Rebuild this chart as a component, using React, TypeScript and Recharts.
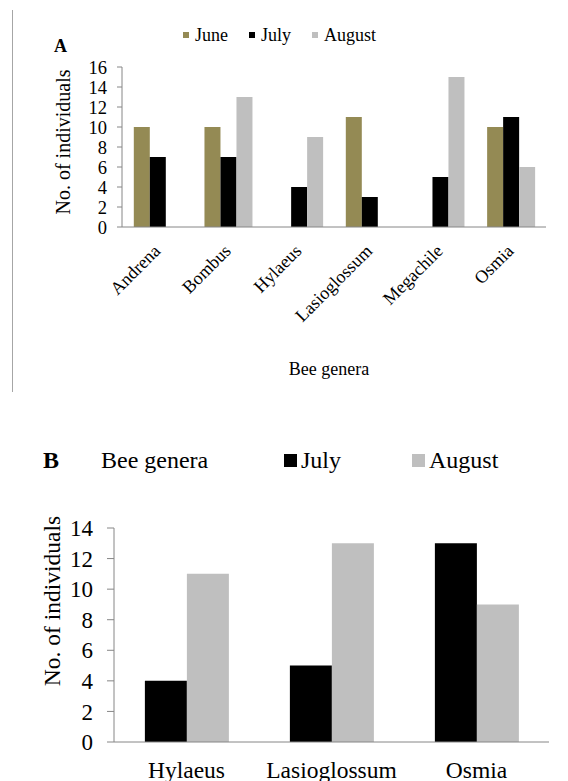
import { BarChart, Bar, XAxis, YAxis } from 'recharts';

const FONT = '"Liberation Serif", "DejaVu Serif", "Times New Roman", Times, serif';
const AXIS = '#868686';

// Panel A – all genera, three months
const generaA = ['Andrena', 'Bombus', 'Hylaeus', 'Lasioglossum', 'Megachile', 'Osmia'];
const juneA = [10, 10, null, 11, null, 10];
const julyA = [7, 7, 4, 3, 5, 11];
const augustA = [null, 13, 9, null, 15, 6];
const ticksA = [0, 2, 4, 6, 8, 10, 12, 14, 16];

// Panel B – genera present in July and August
const generaB = ['Hylaeus', 'Lasioglossum', 'Osmia'];
const julyB = [4, 5, 13];
const augustB = [11, 13, 9];
const ticksB = [0, 2, 4, 6, 8, 10, 12, 14];

const seriesA = [
  { key: 'june', name: 'June', color: '#948A54' },
  { key: 'july', name: 'July', color: '#000000' },
  { key: 'august', name: 'August', color: '#BFBFBF' },
];
const seriesB = seriesA.slice(1);

const dataA = generaA.map((g, i) => ({ genus: g, june: juneA[i], july: julyA[i], august: augustA[i] }));
const dataB = generaB.map((g, i) => ({ genus: g, july: julyB[i], august: augustB[i] }));

// boundary ticks between categories (Excel style)
const edgesA = generaA.map((_, i) => i).concat(generaA.length);
const edgesB = generaB.map((_, i) => i).concat(generaB.length);

function SlantTick({ x, y, payload }: any) {
  return (
    <g transform={`translate(${x + 4},${y + 25}) rotate(-45)`}>
      <text x={0} y={0} textAnchor="end" fontSize={18} fill="#000" style={{ fontFamily: FONT }}>
        {payload.value}
      </text>
    </g>
  );
}

function yTitle(dx: number, dy: number, size: number) {
  return ({ viewBox }: any) => {
    const cx = viewBox.x + dx;
    const cy = viewBox.y + viewBox.height / 2 + dy;
    return (
      <text
        x={cx}
        y={cy}
        transform={`rotate(-90 ${cx} ${cy})`}
        textAnchor="middle"
        dominantBaseline="central"
        fontSize={size}
        fill="#000"
        style={{ fontFamily: FONT }}
      >
        No. of individuals
      </text>
    );
  };
}

function Swatch({ color, size }: { color: string; size: number }) {
  return <span style={{ display: 'inline-block', width: size, height: size, background: color }} />;
}

export default function App() {
  return (
    <div
      style={{
        position: 'absolute',
        left: 0,
        top: 0,
        width: 568,
        height: 781,
        background: '#fff',
        fontFamily: FONT,
        color: '#000',
        overflow: 'hidden',
      }}
    >
      <div style={{ position: 'absolute', left: 12, top: 10, width: 1, height: 382, background: '#a6a6a6' }} />

      {/* Panel A */}
      <div style={{ position: 'absolute', left: 54, top: 37, fontSize: 18, lineHeight: '18px', fontWeight: 'bold' }}>A</div>
      <div
        style={{
          position: 'absolute',
          left: 183,
          top: 26,
          display: 'flex',
          alignItems: 'center',
          fontSize: 18,
          lineHeight: '18px',
          whiteSpace: 'nowrap',
        }}
      >
        {seriesA.map((s) => (
          <span key={s.key} style={{ display: 'flex', alignItems: 'center', marginRight: 21 }}>
            <Swatch color={s.color} size={6} />
            <span style={{ marginLeft: 6 }}>{s.name}</span>
          </span>
        ))}
      </div>
      <div style={{ position: 'absolute', left: 0, top: 0 }}>
        <BarChart
          width={568}
          height={392}
          data={dataA}
          margin={{ top: 67, right: 22, left: 50, bottom: 5 }}
          barCategoryGap="16.7%"
          barGap={0}
          style={{ fontFamily: FONT }}
        >
          <XAxis
            xAxisId="edges"
            type="number"
            domain={[0, generaA.length]}
            ticks={edgesA}
            allowDataOverflow
            height={0}
            tick={false}
            axisLine={false}
            tickSize={5}
            tickLine={{ stroke: AXIS }}
          />
          <XAxis
            xAxisId="cat"
            dataKey="genus"
            interval={0}
            height={160}
            tickLine={false}
            tickSize={0}
            tickMargin={0}
            axisLine={{ stroke: AXIS }}
            tick={<SlantTick />}
            label={({ viewBox }: any) => (
              <text
                x={viewBox.x + viewBox.width / 2 - 5}
                y={viewBox.y + viewBox.height - 12}
                textAnchor="middle"
                fontSize={18}
                fill="#000"
                style={{ fontFamily: FONT }}
              >
                Bee genera
              </text>
            )}
          />
          <YAxis
            width={72}
            domain={[0, 16]}
            ticks={ticksA}
            interval={0}
            tickSize={5}
            tickMargin={10}
            axisLine={{ stroke: AXIS }}
            tickLine={{ stroke: AXIS }}
            tick={{ fill: '#000', fontSize: 18.5, style: { fontFamily: FONT } }}
            label={yTitle(13, -5, 20)}
          />
          {seriesA.map((s) => (
            <Bar key={s.key} xAxisId="cat" dataKey={s.key} name={s.name} fill={s.color} isAnimationActive={false} />
          ))}
        </BarChart>
      </div>

      {/* Panel B */}
      <div style={{ position: 'absolute', left: 43, top: 448, fontSize: 24, lineHeight: '24px', fontWeight: 'bold' }}>B</div>
      <div style={{ position: 'absolute', left: 101, top: 448, fontSize: 24, lineHeight: '24px', whiteSpace: 'nowrap' }}>
        Bee genera
      </div>
      <div
        style={{
          position: 'absolute',
          left: 284,
          top: 448,
          display: 'flex',
          alignItems: 'center',
          fontSize: 24,
          lineHeight: '24px',
          whiteSpace: 'nowrap',
        }}
      >
        {seriesB.map((s) => (
          <span key={s.key} style={{ display: 'flex', alignItems: 'center', marginRight: 71 }}>
            <Swatch color={s.color} size={13} />
            <span style={{ marginLeft: 4 }}>{s.name}</span>
          </span>
        ))}
      </div>
      <div style={{ position: 'absolute', left: 0, top: 400 }}>
        <BarChart
          width={568}
          height={381}
          data={dataB}
          margin={{ top: 128, right: 19, left: 30, bottom: 4 }}
          barCategoryGap="21.3%"
          barGap={0}
          style={{ fontFamily: FONT }}
        >
          <XAxis
            xAxisId="edges"
            type="number"
            domain={[0, generaB.length]}
            ticks={edgesB}
            allowDataOverflow
            height={0}
            tick={false}
            axisLine={false}
            tickSize={6}
            tickLine={{ stroke: AXIS }}
          />
          <XAxis
            xAxisId="cat"
            dataKey="genus"
            interval={0}
            height={35}
            tickLine={false}
            tickSize={0}
            tickMargin={19}
            axisLine={{ stroke: AXIS }}
            tick={{ fill: '#000', fontSize: 23.5, style: { fontFamily: FONT } }}
          />
          <YAxis
            width={84}
            domain={[0, 14]}
            ticks={ticksB}
            interval={0}
            tickSize={7}
            tickMargin={14}
            axisLine={{ stroke: AXIS }}
            tickLine={{ stroke: AXIS }}
            tick={{ fill: '#000', fontSize: 23, style: { fontFamily: FONT } }}
            label={yTitle(22, -34, 23.5)}
          />
          {seriesB.map((s) => (
            <Bar key={s.key} xAxisId="cat" dataKey={s.key} name={s.name} fill={s.color} isAnimationActive={false} />
          ))}
        </BarChart>
      </div>
    </div>
  );
}
